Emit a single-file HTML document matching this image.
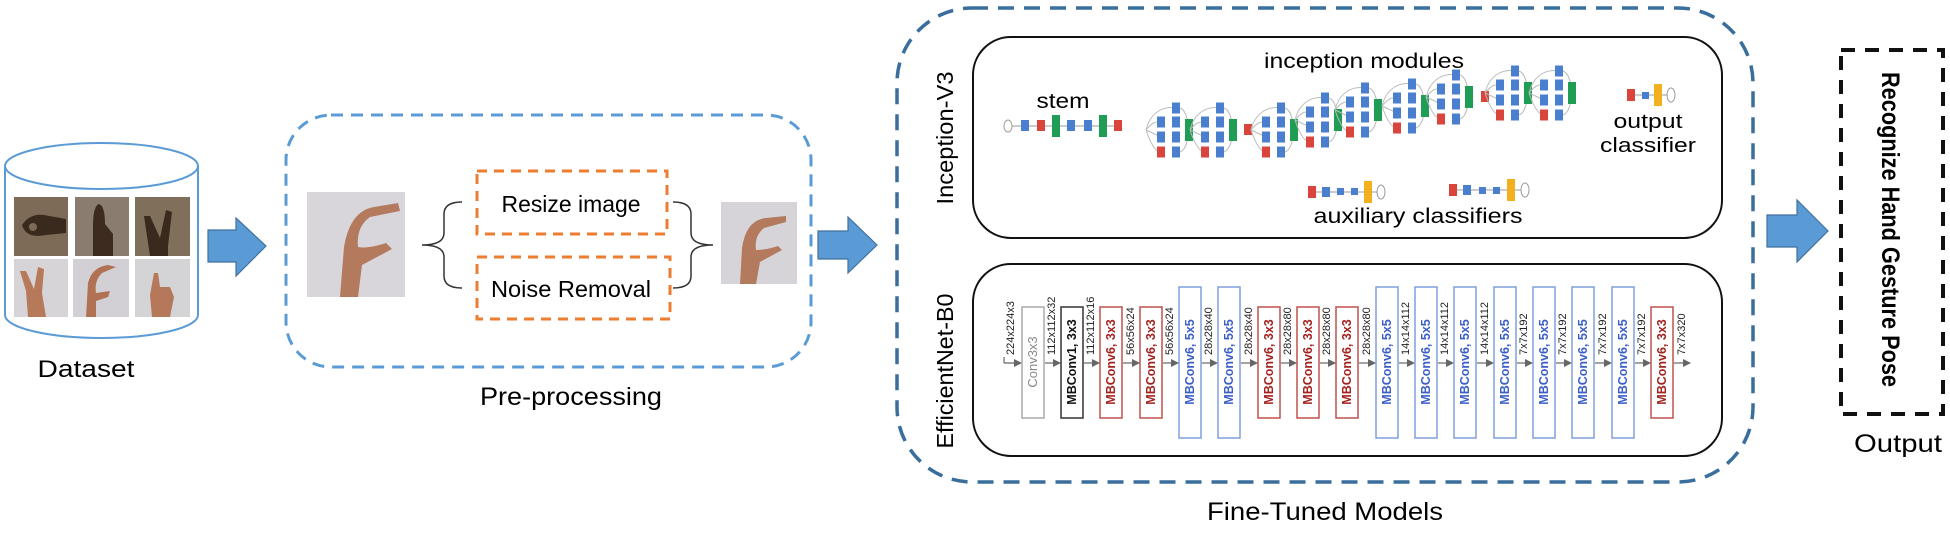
<!DOCTYPE html>
<html><head><meta charset="utf-8"><style>
html,body{margin:0;padding:0;background:#fff;}
svg{display:block;}
text{font-family:"Liberation Sans",sans-serif;}
</style></head><body>
<svg width="1950" height="545" viewBox="0 0 1950 545" xmlns="http://www.w3.org/2000/svg">
<defs>
<marker id="ah" markerWidth="8" markerHeight="8" refX="7" refY="4" orient="auto" markerUnits="userSpaceOnUse"><path d="M0,0 L8,4 L0,8 z" fill="#666"/></marker>
<g id="mod">
 <path d="M-30,0 C-25,-20 -10,-24 0,-22 M-30,0 C-22,-10 -18,-8 -15,-8 M-30,0 L-15,7 M-30,0 C-25,15 -20,22 -15,22 M4,-22 C10,-20 12,-10 13,0 M4,22 C10,20 12,10 13,0" stroke="#bbb" stroke-width="1" fill="none"/>
 <rect x="-4" y="-27.5" width="8" height="11" fill="#4a7fd0"/>
 <rect x="-19" y="-13.5" width="8" height="11" fill="#4a7fd0"/><rect x="-4" y="-13.5" width="8" height="11" fill="#4a7fd0"/>
 <rect x="-19" y="1.5" width="8" height="11" fill="#4a7fd0"/><rect x="-4" y="1.5" width="8" height="11" fill="#4a7fd0"/>
 <rect x="-19" y="16.5" width="8" height="11" fill="#d9453b"/><rect x="-4" y="16.5" width="8" height="11" fill="#4a7fd0"/>
 <rect x="9" y="-11" width="8" height="22" fill="#1f9d55"/>
</g>
</defs>

<!-- Dataset cylinder -->
<path d="M5,166 L5,315 A96.5,23 0 0 0 198,315 L198,166" fill="#fff" stroke="#5b9bd5" stroke-width="2"/>
<ellipse cx="101.5" cy="166" rx="96.5" ry="23" fill="#fff" stroke="#5b9bd5" stroke-width="2"/>
<rect x="14" y="197" width="54" height="59" fill="#7d6b57"/>
<path d="M22,225 q8,-12 22,-10 l22,4 l0,14 l-20,2 q-20,4 -24,-10z" fill="#3a2a1e"/><circle cx="33" cy="227" r="4" fill="#7d6b57"/>
<rect x="75" y="197" width="54" height="59" fill="#8a7d70"/>
<path d="M93,256 l0,-30 q0,-20 6,-22 q6,2 6,20 l8,10 l0,22z" fill="#3d2b1f"/>
<rect x="135" y="197" width="55" height="59" fill="#806f5a"/>
<path d="M150,256 l-6,-40 l6,0 l10,22 l6,-28 l6,2 l-4,34 l0,10z" fill="#3a2a1d"/>
<rect x="14" y="259" width="54" height="58" fill="#d6d4d6"/>
<path d="M28,317 l-2,-26 l-6,-20 l6,0 l8,18 l4,-22 l6,2 l-2,24 l4,24z" fill="#b67a5a"/>
<rect x="73" y="259" width="56" height="58" fill="#d2d0d4"/>
<path d="M86,317 l2,-34 q4,-16 20,-18 l8,2 l-14,6 q-8,8 -6,20 l14,-2 l-2,6 l-12,4 l0,16z" fill="#b07252"/>
<rect x="135" y="259" width="55" height="58" fill="#d4d3d6"/>
<path d="M152,317 l-2,-22 l4,-22 l4,0 l2,14 l10,0 l4,10 l-4,20z" fill="#b5785a"/>
<text x="86" y="377" font-size="24" text-anchor="middle" textLength="97" lengthAdjust="spacingAndGlyphs">Dataset</text>

<!-- Arrow 1 -->
<path d="M208,230 L236,230 L236,218 L266,246 L236,276 L236,262 L208,262 z" fill="#5b9bd5" stroke="#41719c" stroke-width="1.2"/>

<!-- Pre-processing -->
<rect x="286" y="115" width="525" height="252" rx="45" fill="none" stroke="#5b9bd5" stroke-width="3" stroke-dasharray="12,8"/>
<rect x="307" y="192" width="98" height="105" fill="#d8d6da"/>
<path d="M340,297 l4,-50 q6,-36 30,-40 l24,-4 l2,8 l-30,6 q-14,10 -12,30 q10,2 28,-4 l6,6 l-30,16 l-4,32z" fill="#b37a5d"/>
<path d="M462,202 q-18,0 -18,12 l0,19 q0,12 -22,12 q22,0 22,12 l0,19 q0,12 18,12" fill="none" stroke="#333" stroke-width="1.5"/>
<rect x="477" y="171" width="190" height="63" fill="none" stroke="#ed7d31" stroke-width="3" stroke-dasharray="10,7"/>
<text x="571" y="212" font-size="23" text-anchor="middle" textLength="139" lengthAdjust="spacingAndGlyphs">Resize image</text>
<rect x="477" y="257" width="193" height="62" fill="none" stroke="#ed7d31" stroke-width="3" stroke-dasharray="10,7"/>
<text x="571" y="297" font-size="23" text-anchor="middle" textLength="160" lengthAdjust="spacingAndGlyphs">Noise Removal</text>
<path d="M673,202 q18,0 18,12 l0,19 q0,12 22,12 q-22,0 -22,12 l0,19 q0,12 -18,12" fill="none" stroke="#333" stroke-width="1.5"/>
<rect x="721" y="202" width="76" height="82" fill="#d6d4d8"/>
<path d="M740,284 l2,-36 q4,-28 24,-30 l20,-2 l0,6 l-22,6 q-10,8 -8,22 q10,0 22,-4 l4,4 l-22,12 l-4,22z" fill="#b37a5d"/>
<text x="571" y="405" font-size="25" text-anchor="middle" textLength="182" lengthAdjust="spacingAndGlyphs">Pre-processing</text>

<!-- Arrow 2 -->
<path d="M818,231 L848,231 L848,217 L877,245 L848,273 L848,259 L818,259 z" fill="#5b9bd5" stroke="#41719c" stroke-width="1.2"/>

<!-- Fine-tuned models box -->
<rect x="897" y="8" width="856" height="474" rx="75" fill="none" stroke="#3a6e9c" stroke-width="3.5" stroke-dasharray="16,10"/>
<text x="1325" y="520" font-size="25" text-anchor="middle" textLength="236" lengthAdjust="spacingAndGlyphs">Fine-Tuned Models</text>

<text transform="translate(953,138) rotate(-90)" font-size="23" text-anchor="middle" textLength="133" lengthAdjust="spacingAndGlyphs">Inception-V3</text>
<text transform="translate(953,371) rotate(-90)" font-size="23" text-anchor="middle" textLength="155" lengthAdjust="spacingAndGlyphs">EfficientNet-B0</text>

<!-- Inception box -->
<rect x="973" y="37" width="749" height="201" rx="38" fill="none" stroke="#111" stroke-width="2"/>
<text x="1364" y="68" font-size="21" text-anchor="middle" textLength="200" lengthAdjust="spacingAndGlyphs">inception modules</text>
<text x="1063" y="108" font-size="21" text-anchor="middle" textLength="53" lengthAdjust="spacingAndGlyphs">stem</text>
<line x1="1012" y1="126" x2="1122" y2="126" stroke="#999" stroke-width="1"/>
<ellipse cx="1008" cy="126" rx="4" ry="6" fill="#fff" stroke="#999"/>
<rect x="1021" y="120" width="8" height="11" fill="#4a7fd0"/>
<rect x="1037" y="120" width="8" height="11" fill="#d9453b"/>
<rect x="1052" y="115" width="8" height="22" fill="#1f9d55"/>
<rect x="1067" y="120" width="8" height="11" fill="#4a7fd0"/>
<rect x="1084" y="120" width="8" height="11" fill="#4a7fd0"/>
<rect x="1099" y="115" width="8" height="22" fill="#1f9d55"/>
<rect x="1114" y="120" width="8" height="11" fill="#d9453b"/>
<use href="#mod" x="1176" y="130"/>
<use href="#mod" x="1220" y="130"/>
<rect x="1244" y="124" width="8" height="11" fill="#d9453b"/>
<use href="#mod" x="1281" y="130"/>
<use href="#mod" x="1325" y="120"/>
<use href="#mod" x="1365" y="110"/>
<use href="#mod" x="1412" y="106"/>
<use href="#mod" x="1456" y="97"/>
<rect x="1481" y="91" width="8" height="11" fill="#d9453b"/>
<use href="#mod" x="1515" y="93"/>
<use href="#mod" x="1559" y="93"/>
<!-- output classifier -->
<line x1="1631" y1="95" x2="1668" y2="95" stroke="#999"/>
<rect x="1627" y="89" width="8" height="12" fill="#d9453b"/>
<rect x="1642" y="92" width="7" height="7" fill="#4a7fd0"/>
<rect x="1654" y="84" width="8" height="22" fill="#f2b01e"/>
<ellipse cx="1671" cy="95" rx="4" ry="7" fill="#fff" stroke="#999"/>
<text x="1648" y="128" font-size="20" text-anchor="middle" textLength="69" lengthAdjust="spacingAndGlyphs">output</text>
<text x="1648" y="152" font-size="20" text-anchor="middle" textLength="96" lengthAdjust="spacingAndGlyphs">classifier</text>
<!-- aux classifiers -->
<line x1="1312" y1="192" x2="1378" y2="192" stroke="#999"/>
<rect x="1308" y="186" width="8" height="12" fill="#d9453b"/>
<rect x="1322" y="187" width="8" height="10" fill="#4a7fd0"/>
<rect x="1337" y="188" width="7" height="7" fill="#4a7fd0"/>
<rect x="1351" y="188" width="7" height="7" fill="#4a7fd0"/>
<rect x="1364" y="181" width="8" height="22" fill="#f2b01e"/>
<ellipse cx="1381" cy="192" rx="4" ry="7" fill="#fff" stroke="#999"/>
<line x1="1453" y1="190" x2="1522" y2="190" stroke="#999"/>
<rect x="1449" y="184" width="8" height="12" fill="#d9453b"/>
<rect x="1463" y="185" width="8" height="10" fill="#4a7fd0"/>
<rect x="1479" y="187" width="7" height="7" fill="#4a7fd0"/>
<rect x="1493" y="187" width="7" height="7" fill="#4a7fd0"/>
<rect x="1507" y="179" width="8" height="22" fill="#f2b01e"/>
<ellipse cx="1525" cy="190" rx="4" ry="7" fill="#fff" stroke="#999"/>
<text x="1418" y="223" font-size="21" text-anchor="middle" textLength="209" lengthAdjust="spacingAndGlyphs">auxiliary classifiers</text>

<!-- EfficientNet box -->
<rect x="973" y="264" width="749" height="192" rx="38" fill="none" stroke="#111" stroke-width="2"/>
<g stroke="#666" stroke-width="1.2" fill="none">
<line x1="1004" y1="357" x2="1004" y2="363"/>
<line x1="1004" y1="363" x2="1021" y2="363" marker-end="url(#ah)"/>
<line x1="1045" y1="363" x2="1060" y2="363" marker-end="url(#ah)"/>
<line x1="1084" y1="363" x2="1099" y2="363" marker-end="url(#ah)"/>
<line x1="1123" y1="363" x2="1139" y2="363" marker-end="url(#ah)"/>
<line x1="1163" y1="363" x2="1178" y2="363" marker-end="url(#ah)"/>
<line x1="1202" y1="363" x2="1217" y2="363" marker-end="url(#ah)"/>
<line x1="1241" y1="363" x2="1257" y2="363" marker-end="url(#ah)"/>
<line x1="1281" y1="363" x2="1296" y2="363" marker-end="url(#ah)"/>
<line x1="1320" y1="363" x2="1335" y2="363" marker-end="url(#ah)"/>
<line x1="1359" y1="363" x2="1375" y2="363" marker-end="url(#ah)"/>
<line x1="1399" y1="363" x2="1414" y2="363" marker-end="url(#ah)"/>
<line x1="1438" y1="363" x2="1453" y2="363" marker-end="url(#ah)"/>
<line x1="1477" y1="363" x2="1493" y2="363" marker-end="url(#ah)"/>
<line x1="1517" y1="363" x2="1532" y2="363" marker-end="url(#ah)"/>
<line x1="1556" y1="363" x2="1571" y2="363" marker-end="url(#ah)"/>
<line x1="1595" y1="363" x2="1611" y2="363" marker-end="url(#ah)"/>
<line x1="1635" y1="363" x2="1650" y2="363" marker-end="url(#ah)"/>
<line x1="1674" y1="363" x2="1690" y2="363" marker-end="url(#ah)"/>
</g>
<!-- blocks -->
<g stroke-width="1.5" fill="#fff">
<rect x="1022" y="307" width="22" height="111" stroke="#aaa"/>
<rect x="1061" y="307" width="22" height="111" stroke="#333"/>
<rect x="1100" y="307" width="22" height="111" stroke="#c0504d"/>
<rect x="1140" y="307" width="22" height="111" stroke="#c0504d"/>
<rect x="1179" y="287" width="22" height="151" stroke="#7f9fdc"/>
<rect x="1218" y="287" width="22" height="151" stroke="#7f9fdc"/>
<rect x="1258" y="307" width="22" height="111" stroke="#c0504d"/>
<rect x="1297" y="307" width="22" height="111" stroke="#c0504d"/>
<rect x="1336" y="307" width="22" height="111" stroke="#c0504d"/>
<rect x="1376" y="287" width="22" height="151" stroke="#7f9fdc"/>
<rect x="1415" y="287" width="22" height="151" stroke="#7f9fdc"/>
<rect x="1454" y="287" width="22" height="151" stroke="#7f9fdc"/>
<rect x="1494" y="287" width="22" height="151" stroke="#7f9fdc"/>
<rect x="1533" y="287" width="22" height="151" stroke="#7f9fdc"/>
<rect x="1572" y="287" width="22" height="151" stroke="#7f9fdc"/>
<rect x="1612" y="287" width="22" height="151" stroke="#7f9fdc"/>
<rect x="1651" y="307" width="22" height="111" stroke="#c0504d"/>
</g>
<g font-size="12.5" text-anchor="middle" font-weight="bold">
<text transform="translate(1037,362) rotate(-90)" fill="#888" font-weight="normal" font-size="13">Conv3x3</text>
<text transform="translate(1076,362) rotate(-90)" fill="#111">MBConv1, 3x3</text>
<text transform="translate(1115,362) rotate(-90)" fill="#a3231f">MBConv6, 3x3</text>
<text transform="translate(1155,362) rotate(-90)" fill="#a3231f">MBConv6, 3x3</text>
<text transform="translate(1194,362) rotate(-90)" fill="#3b5fc8">MBConv6, 5x5</text>
<text transform="translate(1233,362) rotate(-90)" fill="#3b5fc8">MBConv6, 5x5</text>
<text transform="translate(1273,362) rotate(-90)" fill="#a3231f">MBConv6, 3x3</text>
<text transform="translate(1312,362) rotate(-90)" fill="#a3231f">MBConv6, 3x3</text>
<text transform="translate(1351,362) rotate(-90)" fill="#a3231f">MBConv6, 3x3</text>
<text transform="translate(1391,362) rotate(-90)" fill="#3b5fc8">MBConv6, 5x5</text>
<text transform="translate(1430,362) rotate(-90)" fill="#3b5fc8">MBConv6, 5x5</text>
<text transform="translate(1469,362) rotate(-90)" fill="#3b5fc8">MBConv6, 5x5</text>
<text transform="translate(1509,362) rotate(-90)" fill="#3b5fc8">MBConv6, 5x5</text>
<text transform="translate(1548,362) rotate(-90)" fill="#3b5fc8">MBConv6, 5x5</text>
<text transform="translate(1587,362) rotate(-90)" fill="#3b5fc8">MBConv6, 5x5</text>
<text transform="translate(1627,362) rotate(-90)" fill="#3b5fc8">MBConv6, 5x5</text>
<text transform="translate(1666,362) rotate(-90)" fill="#a3231f">MBConv6, 3x3</text>
</g>
<g font-size="11" fill="#222">
<text transform="translate(1014,355) rotate(-90)">224x224x3</text>
<text transform="translate(1055,355) rotate(-90)">112x112x32</text>
<text transform="translate(1094,355) rotate(-90)">112x112x16</text>
<text transform="translate(1134,355) rotate(-90)">56x56x24</text>
<text transform="translate(1173,355) rotate(-90)">56x56x24</text>
<text transform="translate(1212,355) rotate(-90)">28x28x40</text>
<text transform="translate(1252,355) rotate(-90)">28x28x40</text>
<text transform="translate(1291,355) rotate(-90)">28x28x80</text>
<text transform="translate(1330,355) rotate(-90)">28x28x80</text>
<text transform="translate(1370,355) rotate(-90)">28x28x80</text>
<text transform="translate(1409,355) rotate(-90)">14x14x112</text>
<text transform="translate(1448,355) rotate(-90)">14x14x112</text>
<text transform="translate(1488,355) rotate(-90)">14x14x112</text>
<text transform="translate(1527,355) rotate(-90)">7x7x192</text>
<text transform="translate(1566,355) rotate(-90)">7x7x192</text>
<text transform="translate(1606,355) rotate(-90)">7x7x192</text>
<text transform="translate(1645,355) rotate(-90)">7x7x192</text>
<text transform="translate(1685,355) rotate(-90)">7x7x320</text>
</g>

<!-- Arrow 3 -->
<path d="M1767,215 L1797,215 L1797,200 L1828,231 L1797,262 L1797,247 L1767,247 z" fill="#5b9bd5" stroke="#41719c" stroke-width="1.2"/>

<!-- Output -->
<rect x="1841" y="50" width="102" height="364" fill="none" stroke="#111" stroke-width="4" stroke-dasharray="14,10"/>
<text transform="translate(1882,229.5) rotate(90)" font-size="25" font-weight="bold" text-anchor="middle" textLength="315" lengthAdjust="spacingAndGlyphs">Recognize Hand Gesture Pose</text>
<text x="1898" y="452" font-size="25" text-anchor="middle" textLength="88" lengthAdjust="spacingAndGlyphs">Output</text>
</svg>
</body></html>
